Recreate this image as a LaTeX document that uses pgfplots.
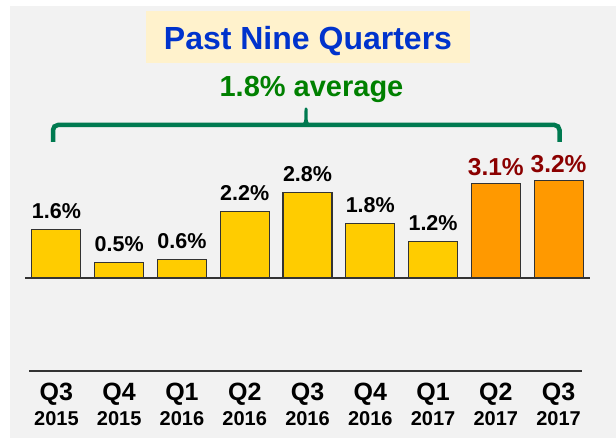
\documentclass[border=0pt]{standalone}
\usepackage{pgfplots}
\pgfplotsset{compat=1.18}
\usepackage{fontspec}
\setmainfont{Liberation Sans}
\definecolor{bg}{HTML}{F2F2F2}
\definecolor{titlebox}{HTML}{FFF2CC}
\definecolor{titleblue}{HTML}{0033CC}
\definecolor{avggreen}{HTML}{008000}
\definecolor{bracegreen}{HTML}{007A50}
\definecolor{baryellow}{HTML}{FFCC00}
\definecolor{barorange}{HTML}{FF9900}
\definecolor{labred}{HTML}{8B0000}
\definecolor{edge}{HTML}{333333}
\begin{document}
\begin{tikzpicture}
\useasboundingbox (0pt,0pt) rectangle (616pt,438pt);
\fill[white] (0pt,0pt) rectangle (616pt,438pt);
\fill[bg] (10pt,0pt) rectangle (616pt,432pt);
% title box
\fill[titlebox] (146pt,375pt) rectangle (470pt,427pt);
\node[anchor=base, inner sep=0pt, text=titleblue, font=\bfseries\fontsize{32}{32}\selectfont] at (308pt,388pt) {Past Nine Quarters};
\node[anchor=base, inner sep=0pt, text=avggreen, font=\bfseries\fontsize{29}{29}\selectfont] at (311.5pt,341.3pt) {1.8\% average};
% brace
\draw[bracegreen, line width=4.5pt, rounded corners=5pt] (53pt,296pt) -- (53pt,313pt) -- (559.5pt,313pt) -- (559.5pt,296pt);
\fill[bracegreen] (300pt,312pt) .. controls (304.5pt,315pt) .. (304.5pt,329pt) arc (180:0:1.5pt) .. controls (307.5pt,315pt) .. (312pt,312pt) -- cycle;
\begin{axis}[
  at={(25pt,160pt)}, anchor=south west,
  scale only axis, width=565pt, height=121.6pt,
  xmin=-0.5, xmax=8.5, ymin=0, ymax=4,
  enlargelimits=false, clip=false,
  axis line style={draw=none},
  ytick=\empty,
  xtick={0,1,2,3,4,5,6,7,8},
  xticklabels={{{\fontsize{25}{25}\selectfont Q3}\\2015},{{\fontsize{25}{25}\selectfont Q4}\\2015},{{\fontsize{25}{25}\selectfont Q1}\\2016},{{\fontsize{25}{25}\selectfont Q2}\\2016},{{\fontsize{25}{25}\selectfont Q3}\\2016},{{\fontsize{25}{25}\selectfont Q4}\\2016},{{\fontsize{25}{25}\selectfont Q1}\\2017},{{\fontsize{25}{25}\selectfont Q2}\\2017},{{\fontsize{25}{25}\selectfont Q3}\\2017}},
  major tick length=0pt,
  xtick style={draw=none},
  xticklabel style={font=\bfseries\fontsize{20}{25}\selectfont, align=center, anchor=north, inner sep=0pt, yshift=-105pt},
  /pgf/number format/assume math mode=true,
  ybar, bar width=49pt,
  point meta=y,
]
\draw[edge, line width=2pt] (axis cs:-0.5,0) -- (axis cs:8.5,0);
\draw[edge, line width=1.8pt] (axis cs:-0.436,-3.06) -- (axis cs:8.37,-3.06);
\addplot[bar shift=0pt, fill=baryellow, draw=edge, line width=1.2pt,
  nodes near coords={\pgfmathprintnumber[fixed,fixed zerofill,precision=1]{\pgfplotspointmeta}\%},
  nodes near coords style={anchor=base, inner sep=0pt, yshift=11pt, text=black, font=\bfseries\fontsize{21.5}{22}\selectfont}]
  coordinates {(0,1.6) (1,0.5) (2,0.6) (3,2.2) (4,2.8) (5,1.8) (6,1.2)};
\addplot[bar shift=0pt, fill=barorange, draw=edge, line width=1.2pt,
  nodes near coords={\pgfmathprintnumber[fixed,fixed zerofill,precision=1]{\pgfplotspointmeta}\%},
  nodes near coords style={anchor=base, inner sep=0pt, yshift=8.5pt, text=labred, font=\bfseries\fontsize{24.5}{25}\selectfont}]
  coordinates {(7,3.1) (8,3.2)};
\end{axis}
\end{tikzpicture}
\end{document}
